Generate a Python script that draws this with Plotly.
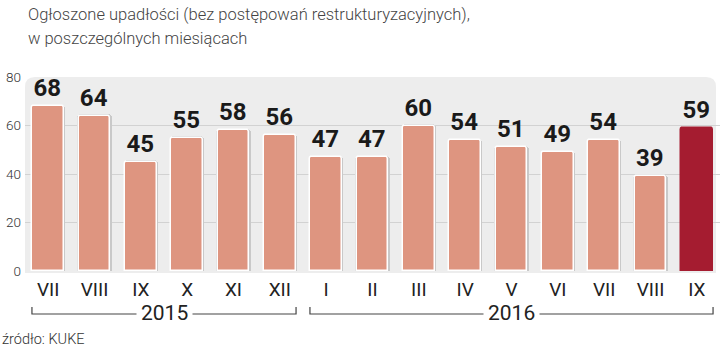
import plotly.graph_objects as go

months = ["VII", "VIII", "IX", "X", "XI", "XII", "I", "II", "III", "IV", "V", "VI", "VII", "VIII", "IX"]
values = [68, 64, 45, 55, 58, 56, 47, 47, 60, 54, 51, 49, 54, 39, 59]
years = ["2015", "2016"]
year_start = [0, 6]
year_end = [5, 14]
y_ticks = [0, 20, 40, 60, 80]

title_lines = ["Ogłoszone upadłości (bez postępowań restrukturyzacyjnych),",
               "w poszczególnych miesiącach"]
source_text = "źródło: KUKE"

W, H = 720, 351
ML, MR, MT, MB = 25, 0, 77, 80
PW, PH = W - ML - MR, H - MT - MB


def px(xp):
    return (xp - ML) / PW


def py(yp):
    return (H - MB - yp) / PH


n = len(values)
xs = list(range(n))
fill_colors = ["#DE9580"] * (n - 1) + ["#A51C30"]
line_colors = ["#FFFFFF"] * (n - 1) + ["#A51C30"]
shadow_colors = ["#C9C9C9"] * (n - 1) + ["rgba(0,0,0,0)"]

fig = go.Figure()

# rounded gray panel
L, R, T, B = px(25), px(716), py(77), py(273)
rx, ry = 10 / PW, 10 / PH
fig.add_shape(type="path", xref="paper", yref="paper", layer="below",
              path=(f"M {L},{B} L {L},{T - ry} Q {L},{T} {L + rx},{T} "
                    f"L {R - rx},{T} Q {R},{T} {R},{T - ry} L {R},{B} Z"),
              fillcolor="#EDEDED", line=dict(width=0))

fig.add_trace(go.Bar(
    x=xs, y=[v + 0.6 for v in values], width=0.74,
    marker=dict(color=shadow_colors, line=dict(width=0), cornerradius=4),
    hoverinfo="skip", showlegend=False,
))
fig.add_trace(go.Bar(
    x=xs, y=values, width=0.68,
    marker=dict(color=fill_colors, line=dict(color=line_colors, width=1.5), cornerradius=3),
    text=[str(v) for v in values], textposition="outside", cliponaxis=False,
    textfont=dict(family="Roboto, sans-serif", size=24, color="#1A1A1A", weight="bold"),
    showlegend=False,
))

# year brackets
for yr, s, e in zip(years, year_start, year_end):
    xa, xb = s - 0.35, e + 0.35
    fig.add_shape(type="path", xref="x", yref="paper",
                  path=f"M {xa},{py(307)} L {xa},{py(314)} L {xb},{py(314)} L {xb},{py(307)}",
                  line=dict(color="#444444", width=1.2))
    fig.add_annotation(x=(s + e) / 2, xref="x", y=py(313), yref="paper",
                       text=yr, showarrow=False, bgcolor="#FFFFFF", borderpad=4,
                       font=dict(family="Roboto, sans-serif", size=21, color="#222222"),
                       xanchor="center", yanchor="middle")

for i, line in enumerate(title_lines):
    fig.add_annotation(x=px(26), y=py(14 + 24 * i), xref="paper", yref="paper", text=line,
                       showarrow=False, xanchor="left", yanchor="middle", align="left",
                       font=dict(family="Roboto, sans-serif", size=16.5, color="#444444", weight=300))
fig.add_annotation(x=px(0), y=py(339), xref="paper", yref="paper", text=source_text,
                   showarrow=False, xanchor="left", yanchor="middle",
                   font=dict(family="Roboto, sans-serif", size=14.5, color="#333333", weight=300))

fig.update_layout(
    width=W, height=H,
    margin=dict(l=ML, r=MR, t=MT, b=MB),
    paper_bgcolor="#FFFFFF", plot_bgcolor="rgba(0,0,0,0)",
    barmode="overlay", bargap=0,
    xaxis=dict(range=[-0.5, n - 0.5], tickmode="array", tickvals=xs, ticktext=months,
               showgrid=False, zeroline=False, showline=False, ticks="",
               tickfont=dict(family="Roboto, sans-serif", size=19, color="#222222"),
               ticklabelstandoff=5),
    yaxis=dict(range=[0, 80], tickmode="array", tickvals=y_ticks,
               showgrid=True, gridcolor="#D2D2D2", gridwidth=1, zeroline=False, showline=False,
               ticks="", tickfont=dict(family="Roboto, sans-serif", size=13.5, color="#333333", weight=300),
               ticklabelstandoff=3),
)

fig.write_html("out.html")
